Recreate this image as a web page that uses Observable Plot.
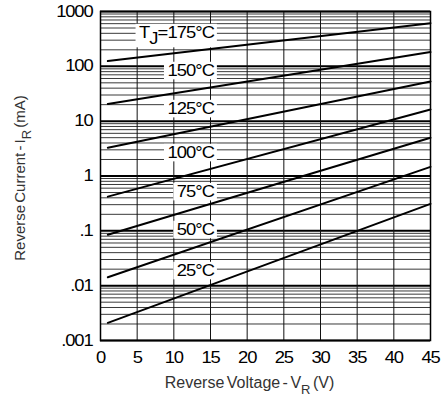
<!DOCTYPE html>
<html>
<head>
<meta charset="utf-8">
<script src="https://cdn.jsdelivr.net/npm/d3@7"></script>
<script src="https://cdn.jsdelivr.net/npm/@observablehq/plot@0.6"></script>
<style>
  html, body { margin: 0; padding: 0; background: #fff; }
  #chart svg { display: block; }
</style>
</head>
<body>
<div id="chart"></div>
<script>
// ---- data ----
const temperatures = ["175", "150", "125", "100", "75", "50", "25"];
const lineVoltages = [1, 45];                       // start / end of each curve (V)
const startCurrents = [125, 20.6, 3.27, 0.42, 0.0846, 0.0142, 0.0021]; // mA at 1 V
const endCurrents = [612, 182, 53, 16.3, 4.97, 1.47, 0.31];          // mA at 45 V

const labelTexts = ["T_J=175°C", "150°C", "125°C", "100°C", "75°C", "50°C", "25°C"];
const labelVoltage = [15.5, 15.5, 15.5, 15.5, 15.5, 15.5, 15.5];
const labelCurrents = [414, 84, 17, 2.68, 0.52, 0.106, 0.0189];

const xTicks = [0, 5, 10, 15, 20, 25, 30, 35, 40, 45];
const decades = [0.001, 0.01, 0.1, 1, 10, 100, 1000];
const yTickLabels = [".001", ".01", ".1", "1", "10", "100", "1000"];
const minorMultipliers = [2, 3, 4, 5, 6, 7, 8, 9];

const xTitle = "Reverse Voltage - V_R (V)";
const yTitle = "Reverse Current - I_R (mA)";

// ---- derived tables ----
const lineData = [];
temperatures.forEach((t, i) => {
  lineData.push({t, v: lineVoltages[0], i: startCurrents[i]});
  lineData.push({t, v: lineVoltages[1], i: endCurrents[i]});
});
const labels = labelTexts.map((text, k) => ({text, v: labelVoltage[k], i: labelCurrents[k]}));
const minorTicks = [];
decades.slice(0, -1).forEach(d => minorMultipliers.forEach(m => minorTicks.push(d * m)));

const font = "'Liberation Sans', Arial, sans-serif";

const chart = Plot.plot({
  width: 446,
  height: 400,
  marginLeft: 100,
  marginTop: 11,
  marginRight: 16,
  marginBottom: 60,
  style: {fontFamily: font, background: "#fff", overflow: "visible"},
  x: {domain: [0, 45], label: null},
  y: {type: "log", domain: [0.001, 1000], label: null},
  marks: [
    Plot.ruleY(minorTicks, {stroke: "#3a3a3a", strokeWidth: 1}),
    Plot.ruleY(decades, {stroke: "#000", strokeWidth: 2}),
    Plot.ruleX(xTicks, {stroke: "#111", strokeWidth: 1}),
    Plot.text(labels, {x: "v", y: "i", text: "text", textAnchor: "end", fontSize: 16,
      fill: "black", className: "curve-label"}),
    Plot.line(lineData, {x: "v", y: "i", z: "t", stroke: "#000", strokeWidth: 2}),
    Plot.frame({stroke: "#000", strokeWidth: 1.5}),
    Plot.axisX({ticks: xTicks, tickSize: 0, tickPadding: 11, fontSize: 16, label: null,
      className: "tick-labels"}),
    Plot.axisY({ticks: decades, tickFormat: (d) => yTickLabels[decades.indexOf(d)],
      tickSize: 0, tickPadding: 8, fontSize: 16, label: null, className: "tick-labels"}),
    Plot.text([xTitle], {frameAnchor: "bottom", dy: 47, dx: -16, fontSize: 16, fill: "#333",
      textAnchor: "middle", className: "axis-title"}),
    Plot.text([yTitle], {frameAnchor: "left", dx: -80, dy: 2, rotate: -90, fontSize: 15,
      fill: "#333", textAnchor: "middle", className: "axis-title"})
  ]
});

document.getElementById("chart").appendChild(chart);

// widen tick and curve label glyphs like the reference
function widen(sel, sx, spacing) {
  sel.each(function () {
    const tr = this.getAttribute("transform") || "";
    this.setAttribute("transform", (tr + ` scale(${sx},1)`).trim());
    this.style.letterSpacing = spacing;
  });
}
d3.select(chart).selectAll(".tick-labels text").attr("fill", "#000");
widen(d3.select(chart).selectAll(".tick-labels text"), 1.15, "-1px");

// subscripts: "A_B rest" -> A, sub B, rest
function applySubscript(sel, shift, subSize) {
  sel.each(function () {
    const el = d3.select(this);
    const txt = this.textContent;
    const k = txt.indexOf("_");
    if (k < 0) return;
    const before = txt.slice(0, k), sub = txt[k + 1], after = txt.slice(k + 2);
    el.text(null);
    el.append("tspan").text(before);
    const s = el.append("tspan").attr("dy", shift).text(sub);
    if (subSize) s.attr("font-size", subSize);
    el.append("tspan").attr("dy", -shift).text(after);
  });
}
applySubscript(d3.select(chart).selectAll(".curve-label text"), 6, null);
applySubscript(d3.select(chart).selectAll(".axis-title text"), 6, 13);
d3.select(chart).selectAll(".axis-title text").style("word-spacing", "-2px");

widen(d3.select(chart).selectAll(".curve-label text"), 1.15, "-0.8px");

// white boxes behind curve labels
d3.select(chart).selectAll(".curve-label text").each(function () {
  const b = this.getBBox();
  const g = this.parentNode;
  const tr = this.getAttribute("transform");
  const r = document.createElementNS("http://www.w3.org/2000/svg", "rect");
  r.setAttribute("x", b.x - 3);
  r.setAttribute("y", b.y + 1);
  r.setAttribute("width", b.width + 5);
  r.setAttribute("height", b.height - 1);
  r.setAttribute("fill", "#fff");
  r.setAttribute("stroke", "none");
  if (tr) r.setAttribute("transform", tr);
  g.insertBefore(r, this);
});
</script>
</body>
</html>
